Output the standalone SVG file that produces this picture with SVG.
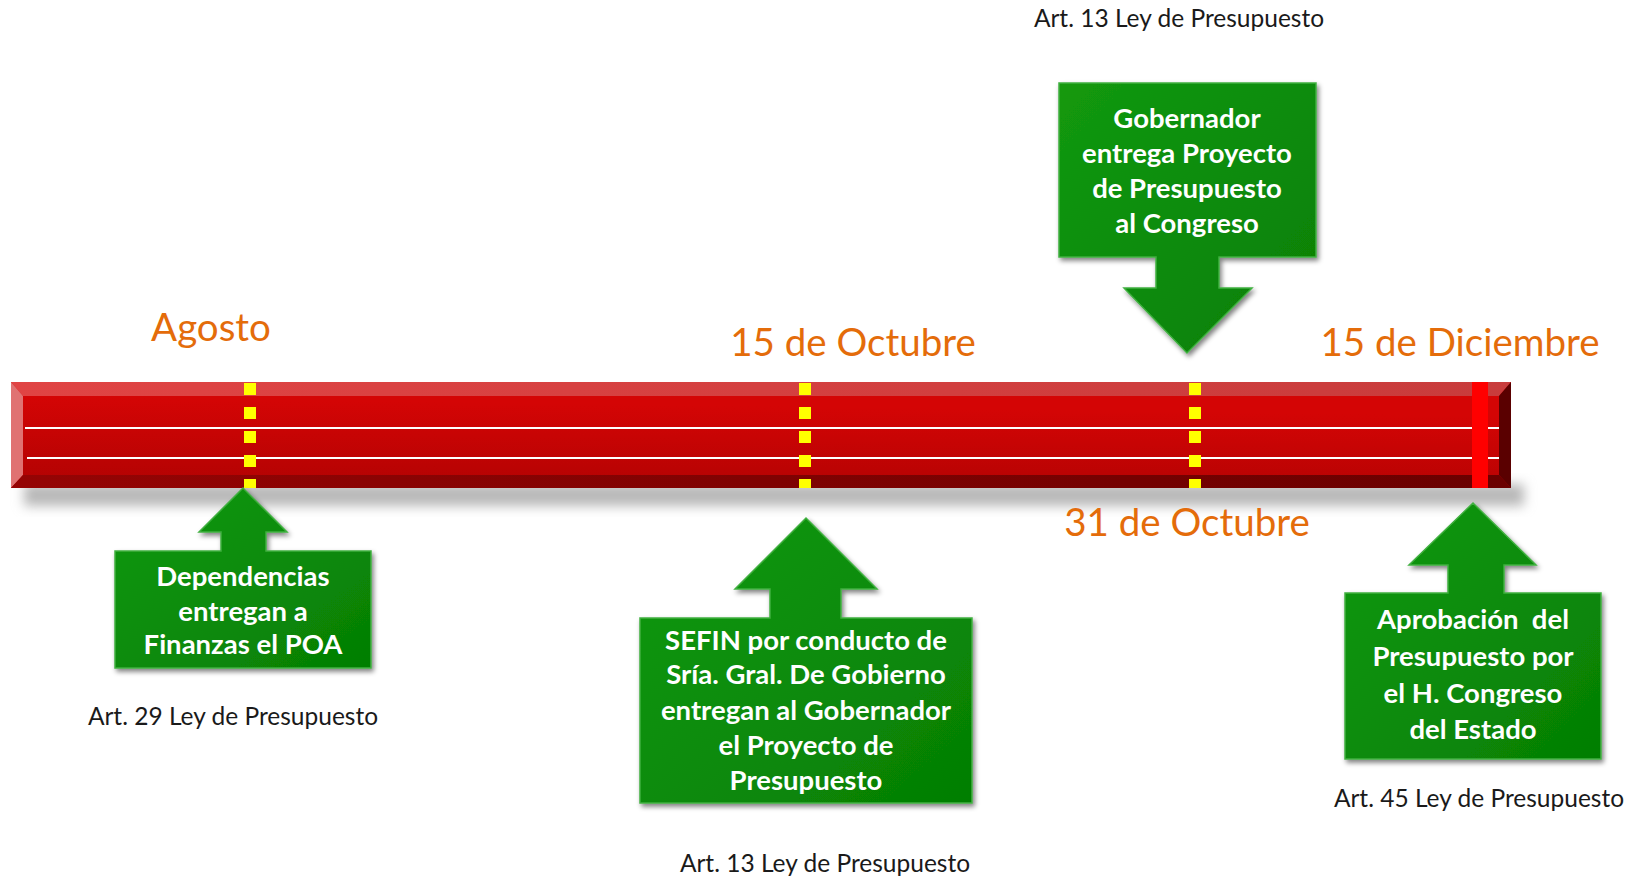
<svg xmlns="http://www.w3.org/2000/svg" width="1644" height="878" viewBox="0 0 1644 878">
<style>
.lbl{font-family:Lato,"Liberation Sans",sans-serif;font-size:38.5px;fill:#E46C0A;text-anchor:middle}
.art{font-family:Lato,"Liberation Sans",sans-serif;font-size:24.5px;fill:#1a1a1a;text-anchor:middle}
.box{font-family:Lato,"Liberation Sans",sans-serif;font-size:27.5px;font-weight:bold;fill:#ffffff;text-anchor:middle;white-space:pre}
.callout{fill:url(#green);stroke:#40b040;stroke-width:1.5;filter:url(#shadow)}
.dash{stroke:#FFFF00;stroke-width:12;stroke-dasharray:12 12}
.wl{stroke:#ffffff;stroke-width:2}
</style>
<defs>
<linearGradient id="green" x1="0" y1="0" x2="1" y2="1">
<stop offset="0" stop-color="#13990f"/>
<stop offset="1" stop-color="#047e04"/>
</linearGradient>
<linearGradient id="face" x1="0" y1="0" x2="1" y2="1" gradientUnits="userSpaceOnUse" gradientTransform="matrix(1500 100 -10 80 11 396)">
<stop offset="0" stop-color="#D40505"/>
<stop offset="1" stop-color="#960000"/>
</linearGradient>
<linearGradient id="topb" x1="0" y1="0" x2="1" y2="0">
<stop offset="0" stop-color="#E04444"/>
<stop offset="1" stop-color="#C83C3C"/>
</linearGradient>
<linearGradient id="botb" x1="0" y1="0" x2="1" y2="0">
<stop offset="0" stop-color="#950404"/>
<stop offset="1" stop-color="#6A0000"/>
</linearGradient>
<filter id="shadow" x="-10%" y="-10%" width="125%" height="130%">
<feGaussianBlur in="SourceAlpha" stdDeviation="2.5"/>
<feOffset dx="2" dy="3"/>
<feComponentTransfer><feFuncA type="linear" slope="0.5"/></feComponentTransfer>
<feMerge><feMergeNode/><feMergeNode in="SourceGraphic"/></feMerge>
</filter>
<filter id="blur" x="-5%" y="-50%" width="110%" height="200%">
<feGaussianBlur stdDeviation="6"/>
</filter>
</defs>
<rect width="1644" height="878" fill="#ffffff"/>

<g id="timeline">
<rect x="24" y="484" width="1500" height="22" fill="#b8b8b8" filter="url(#blur)"/>
<rect x="11" y="382" width="1500" height="106" fill="url(#face)"/>
<polygon points="11,382 1511,382 1499,396 23,396" fill="url(#topb)"/>
<polygon points="11,382 23,396 23,475 11,488" fill="#E07272"/>
<polygon points="11,488 23,475 1499,475 1511,488" fill="url(#botb)"/>
<polygon points="1511,382 1499,396 1499,475 1511,488" fill="#5A0000"/>
<line class="wl" x1="25" y1="428" x2="1499" y2="428"/>
<line class="wl" x1="27" y1="458" x2="1499" y2="458"/>
<rect x="1472" y="382" width="16" height="106" fill="#FF0000"/>
<line class="dash" x1="250" y1="383" x2="250" y2="488"/>
<line class="dash" x1="805" y1="383" x2="805" y2="488"/>
<line class="dash" x1="1195" y1="383" x2="1195" y2="488"/>
</g>

<g id="labels">
<text class="lbl" x="211" y="341">Agosto</text>
<text class="lbl" x="853" y="356">15 de Octubre</text>
<text class="lbl" x="1460" y="356">15 de Diciembre</text>
<text class="lbl" x="1187" y="536">31 de Octubre</text>
<text class="art" x="1179" y="27">Art. 13 Ley de Presupuesto</text>
<text class="art" x="233" y="725">Art. 29 Ley de Presupuesto</text>
<text class="art" x="1479" y="807">Art. 45 Ley de Presupuesto</text>
<text class="art" x="825" y="872">Art. 13 Ley de Presupuesto</text>
</g>

<g id="gobernador">
<path class="callout" d="M1059,83 H1316 V257 H1219 V288 H1252 L1187,353 L1124,288 H1156 V257 H1059 Z"/>
<text class="box" x="1187" y="128">Gobernador</text>
<text class="box" x="1187" y="163">entrega Proyecto</text>
<text class="box" x="1187" y="198">de Presupuesto</text>
<text class="box" x="1187" y="233">al Congreso</text>
</g>

<g id="dependencias">
<path class="callout" d="M115,551 H221 V532 H199 L243,488 L287,532 H266 V551 H371 V668 H115 Z"/>
<text class="box" x="243" y="586">Dependencias</text>
<text class="box" x="243" y="621">entregan a</text>
<text class="box" x="243" y="654">Finanzas el POA</text>
</g>

<g id="sefin">
<path class="callout" d="M640,618 H770 V589 H735 L806,518 L877,589 H841 V618 H972 V803 H640 Z"/>
<text class="box" x="806" y="650">SEFIN por conducto de</text>
<text class="box" x="806" y="684">Sría. Gral. De Gobierno</text>
<text class="box" x="806" y="720">entregan al Gobernador</text>
<text class="box" x="806" y="755">el Proyecto de</text>
<text class="box" x="806" y="790">Presupuesto</text>
</g>

<g id="aprobacion">
<path class="callout" d="M1345,593 H1448 V565 H1409 L1473,503 L1536,565 H1504 V593 H1601 V759 H1345 Z"/>
<text class="box" x="1473" y="629">Aprobación  del</text>
<text class="box" x="1473" y="666">Presupuesto por</text>
<text class="box" x="1473" y="703">el H. Congreso</text>
<text class="box" x="1473" y="739">del Estado</text>
</g>
</svg>
